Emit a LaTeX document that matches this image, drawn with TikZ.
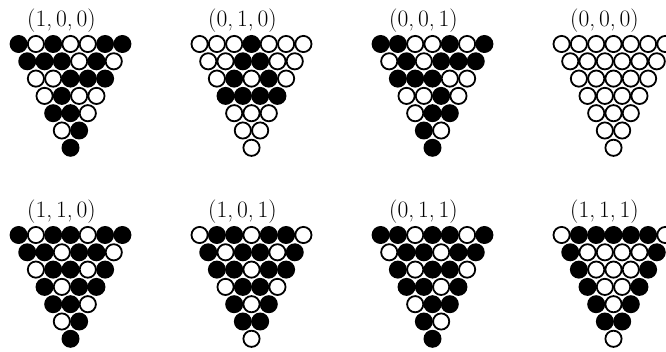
\documentclass[tikz,border=0pt]{standalone}
\usepackage{fontspec}
\tikzset{
  lab/.style={anchor=base, inner sep=0pt, font=\fontsize{23.5}{28}\selectfont},
  wht/.style={draw=black, fill=white, line width=1.8pt},
}
\newcommand\spc{17.3}
% #1 name, #2 label, #3..#9 rows
\newcommand\tri[9]{%
  \node[lab] (#1) at (-9,-17.5) {#2};
  \foreach \rw [count=\r from 0] in {{#3},{#4},{#5},{#6},{#7},{#8},{#9}} {
    \foreach \b [count=\k from 0] in \rw {
      \pgfmathsetmacro\xx{(\k-(6-\r)/2)*\spc}
      \pgfmathsetmacro\yy{\r*\spc}
      \ifnum\b=1
        \fill (\xx,\yy) circle (9);
      \else
        \draw[wht] (\xx,\yy) circle (8.1);
      \fi
    }
  }
}
\begin{document}
\begin{tikzpicture}[x=1pt,y=-1pt]
\useasboundingbox (0,0) rectangle (666,352);
\begin{scope}[shift={(70.5,44)}]
\tri{a}{(1,\,0,\,0)}{1,0,1,0,0,1,1}{1,1,1,0,1,0}{0,0,1,1,1}{0,1,0,0}{1,1,0}{0,1}{1}
\end{scope}
\begin{scope}[shift={(251.5,44)}]
\tri{b}{(0,\,1,\,0)}{0,0,0,1,0,0,0}{0,0,1,1,0,0}{0,1,0,1,0}{1,1,1,1}{0,0,0}{0,0}{0}
\end{scope}
\begin{scope}[shift={(432.5,44)}]
\tri{c}{(0,\,0,\,1)}{1,1,0,0,1,0,1}{0,1,0,1,1,1}{1,1,1,0,0}{0,0,1,0}{0,1,1}{1,0}{1}
\end{scope}
\begin{scope}[shift={(613.5,44)}]
\tri{d}{(0,\,0,\,0)}{0,0,0,0,0,0,0}{0,0,0,0,0,0}{0,0,0,0,0}{0,0,0,0}{0,0,0}{0,0}{0}
\end{scope}
\begin{scope}[shift={(70.5,235)}]
\tri{e}{(1,\,1,\,0)}{1,0,1,1,0,1,1}{1,1,0,1,1,0}{0,1,1,0,1}{1,0,1,1}{1,1,0}{0,1}{1}
\end{scope}
\begin{scope}[shift={(251.5,235)}]
\tri{f}{(1,\,0,\,1)}{0,1,1,0,1,1,0}{1,0,1,1,0,1}{1,1,0,1,1}{0,1,1,0}{1,0,1}{1,1}{0}
\end{scope}
\begin{scope}[shift={(432.5,235)}]
\tri{g}{(0,\,1,\,1)}{1,1,0,1,1,0,1}{0,1,1,0,1,1}{1,0,1,1,0}{1,1,0,1}{0,1,1}{1,0}{1}
\end{scope}
\begin{scope}[shift={(613.5,235)}]
\tri{h}{(1,\,1,\,1)}{0,1,1,1,1,1,0}{1,0,0,0,0,1}{1,0,0,0,1}{1,0,0,1}{1,0,1}{1,1}{0}
\end{scope}
\end{tikzpicture}
\end{document}
